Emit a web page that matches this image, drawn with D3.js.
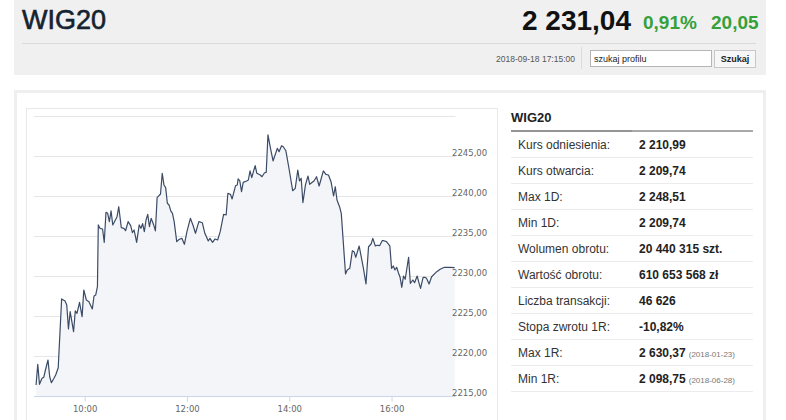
<!DOCTYPE html>
<html lang="pl">
<head>
<meta charset="utf-8">
<title>WIG20</title>
<script src="https://cdnjs.cloudflare.com/ajax/libs/d3/7.8.5/d3.min.js"></script>
<style>
  body { margin: 0; background: #fff; width: 786px; height: 420px; overflow: hidden; }
  svg { display: block; font-family: "Liberation Sans", Arial, sans-serif; }
</style>
</head>
<body>
<div id="page"></div>
<script>
// intraday quotes
const times = ["09:03","09:05","09:07","09:10","09:12","09:14","09:17","09:19","09:21","09:24",
  "09:26","09:29","09:33","09:37","09:39","09:41","09:43","09:45","09:47","09:49",
  "09:51","09:54","09:57","09:59","10:02","10:05","10:09","10:11","10:13","10:15",
  "10:16","10:18","10:21","10:23","10:25","10:27","10:29","10:31","10:33","10:36",
  "10:38","10:40","10:43","10:46","10:48","10:51","10:54","10:56","10:58","11:01",
  "11:04","11:06","11:08","11:10","11:12","11:14","11:16","11:18","11:21","11:23",
  "11:25","11:29","11:31","11:33","11:35","11:37","11:39","11:41","11:43","11:45",
  "11:48","11:51","11:54","11:57","12:00","12:04","12:07","12:10","12:14","12:18",
  "12:21","12:25","12:27","12:30","12:33","12:36","12:39","12:43","12:46","12:48",
  "12:51","12:53","12:57","12:59","13:00","13:02","13:04","13:06","13:10","13:12",
  "13:14","13:16","13:20","13:22","13:26","13:28","13:31","13:33","13:35","13:38",
  "13:41","13:46","13:48","13:51","13:53","13:56","14:00","14:04","14:07","14:10",
  "14:12","14:14","14:16","14:19","14:22","14:24","14:27","14:29","14:32","14:35",
  "14:37","14:40","14:43","14:46","14:49","14:52","14:54","14:56","14:59","15:01",
  "15:06","15:08","15:11","15:14","15:16","15:18","15:22","15:24","15:27","15:30",
  "15:33","15:36","15:38","15:41","15:43","15:46","15:49","15:51","15:54","15:57",
  "15:58","16:00","16:02","16:04","16:06","16:08","16:10","16:12","16:14","16:16",
  "16:20","16:22","16:25","16:27","16:30","16:32","16:34","16:37","16:39","16:41",
  "16:44","16:47","16:53","16:57","17:02","17:08","17:14"];

const quotes = [2216.38,2218.96,2216.46,2217.21,2217.34,2218.25,2219.50,2217.41,2216.66,2217.21,
  2217.63,2218.54,2227.13,2226.88,2226.38,2223.38,2225.54,2224.29,2223.04,2225.63,
  2225.34,2226.71,2224.91,2228.25,2227.00,2226.79,2225.88,2227.50,2227.63,2228.66,
  2236.38,2235.96,2235.88,2234.21,2237.96,2237.84,2236.79,2238.13,2236.38,2237.00,
  2237.41,2238.66,2236.04,2235.96,2235.66,2236.79,2236.29,2235.41,2235.75,2234.21,
  2236.38,2235.96,2236.54,2235.54,2237.00,2237.71,2236.16,2237.21,2236.38,2235.63,
  2239.79,2240.25,2242.84,2241.38,2241.04,2239.09,2238.88,2238.13,2237.84,2236.79,
  2234.29,2234.59,2234.71,2233.96,2235.54,2237.21,2236.38,2235.34,2236.79,2236.66,
  2235.34,2234.38,2234.71,2234.21,2234.63,2234.50,2235.54,2237.71,2237.63,2240.34,
  2240.21,2239.63,2241.29,2241.38,2242.13,2241.88,2240.54,2241.71,2241.88,2242.00,
  2243.13,2242.29,2243.79,2242.84,2242.63,2242.41,2242.91,2242.96,2247.63,2245.96,
  2244.38,2245.96,2245.54,2246.29,2246.16,2245.66,2243.25,2240.66,2240.96,2243.25,
  2241.88,2242.21,2239.16,2241.38,2242.50,2241.46,2241.71,2241.88,2242.41,2241.25,
  2242.00,2243.13,2242.71,2242.63,2241.79,2240.00,2241.16,2239.50,2238.66,2237.84,
  2230.25,2230.75,2230.96,2233.16,2233.04,2232.34,2233.75,2232.63,2230.96,2229.00,
  2233.66,2234.00,2234.71,2233.75,2233.84,2233.79,2234.41,2234.41,2234.29,2233.88,
  2233.75,2230.96,2231.25,2230.75,2231.09,2230.41,2229.84,2228.59,2230.00,2229.59,
  2232.34,2229.09,2229.50,2229.16,2230.00,2229.21,2228.46,2229.84,2229.84,2229.71,
  2229.00,2229.91,2230.54,2230.84,2231.09,2231.09,2231.04];

const yTicks = [2215, 2220, 2225, 2230, 2235, 2240, 2245, 2250];
const xTicks = ["10:00", "12:00", "14:00", "16:00"];

// header
const title = "WIG20";
const lastPrice = "2 231,04";
const changePct = "0,91%";
const changeAbs = "20,05";
const stamp = "2018-09-18 17:15:00";

// side table
const rowLabels = ["Kurs odniesienia:", "Kurs otwarcia:", "Max 1D:", "Min 1D:", "Wolumen obrotu:",
  "Wartość obrotu:", "Liczba transakcji:", "Stopa zwrotu 1R:", "Max 1R:", "Min 1R:"];
const rowValues = ["2 210,99", "2 209,74", "2 248,51", "2 209,74", "20 440 315 szt.",
  "610 653 568 zł", "46 626", "-10,82%", "2 630,37", "2 098,75"];
const rowNotes = ["", "", "", "", "", "", "", "", "(2018-01-23)", "(2018-06-28)"];

const W = 786, H = 420;
const parseTime = d3.timeParse("%H:%M");
// axis labels: comma decimal, no thousands grouping
const fmt = d3.formatLocale({decimal: ",", thousands: "", grouping: [3], currency: ["", " zł"]}).format(".2f");

const data = times.map(function (t, i) { return {t: parseTime(t), v: quotes[i]}; });

const svg = d3.select("#page").append("svg")
  .attr("width", W)
  .attr("height", H);

// ---- top bar ----
svg.append("rect").attr("x", 14).attr("y", 0).attr("width", 752).attr("height", 75).attr("fill", "#f0f0f0");
svg.append("text").attr("x", 22).attr("y", 29).attr("font-size", 27).attr("fill", "#15222f")
  .attr("stroke", "#15222f").attr("stroke-width", 0.6).text(title);
svg.append("text").attr("x", 522).attr("y", 30).attr("font-size", 28).attr("font-weight", "bold")
  .attr("fill", "#111").text(lastPrice);
svg.append("text").attr("x", 643).attr("y", 29).attr("font-size", 19).attr("font-weight", "bold")
  .attr("fill", "#36a03a").text(changePct);
svg.append("text").attr("x", 711).attr("y", 29).attr("font-size", 19).attr("font-weight", "bold")
  .attr("fill", "#36a03a").text(changeAbs);
svg.append("line").attr("x1", 22).attr("x2", 756).attr("y1", 43.5).attr("y2", 43.5).attr("stroke", "#dadada");
svg.append("text").attr("x", 575).attr("y", 61.5).attr("text-anchor", "end").attr("font-size", 8.5)
  .attr("fill", "#555").text(stamp);
svg.append("line").attr("x1", 581.5).attr("x2", 581.5).attr("y1", 47).attr("y2", 69).attr("stroke", "#dcdcdc");
svg.append("rect").attr("x", 590.5).attr("y", 50.5).attr("width", 121).attr("height", 16)
  .attr("fill", "#fff").attr("stroke", "#b5b5b5");
svg.append("text").attr("x", 594).attr("y", 61.5).attr("font-size", 9).attr("fill", "#222").text("szukaj profilu");
svg.append("rect").attr("x", 714.5).attr("y", 50.5).attr("width", 41).attr("height", 17)
  .attr("fill", "#f7f7f7").attr("stroke", "#c8c8c8");
svg.append("text").attr("x", 735).attr("y", 62).attr("text-anchor", "middle").attr("font-size", 9)
  .attr("font-weight", "bold").attr("fill", "#222").text("Szukaj");

// ---- card ----
svg.append("rect").attr("x", 15.5).attr("y", 91.5).attr("width", 749).attr("height", 360)
  .attr("fill", "#fff").attr("stroke", "#efefef").attr("stroke-width", 3);
svg.append("rect").attr("x", 26.5).attr("y", 108.5).attr("width", 471).attr("height", 340)
  .attr("fill", "none").attr("stroke", "#e8e8e8");

// ---- chart ----
const x = d3.scaleTime()
  .domain([parseTime("09:00"), parseTime("17:15")])
  .range([33.5, 455.5]);
const y = d3.scaleLinear()
  .domain([2215, 2250])
  .range([396, 116]);

const chart = svg.append("g");

chart.selectAll(".grid")
  .data(yTicks)
  .enter()
  .append("line")
  .attr("class", "grid")
  .attr("x1", 34).attr("x2", 455.5)
  .attr("y1", function (d) { return Math.round(y(d)) + 0.5; })
  .attr("y2", function (d) { return Math.round(y(d)) + 0.5; })
  .attr("stroke", "#e6e6e6");

const area = d3.area()
  .x(function (d) { return x(d.t); })
  .y0(y(2215))
  .y1(function (d) { return y(d.v); });
const line = d3.line()
  .x(function (d) { return x(d.t); })
  .y(function (d) { return y(d.v); });

chart.append("path").datum(data).attr("d", area).attr("fill", "#f4f5f8");
chart.append("path").datum(data).attr("d", line)
  .attr("fill", "none").attr("stroke", "#3b4b66").attr("stroke-width", 1.2)
  .attr("stroke-linejoin", "round");

// x axis
const xAxis = d3.axisBottom(x)
  .tickValues(xTicks.map(parseTime))
  .tickFormat(d3.timeFormat("%H:%M"))
  .tickSize(5)
  .tickPadding(4);
const gx = chart.append("g").attr("transform", "translate(0," + (y(2215) + 0.5) + ")").call(xAxis);
gx.select(".domain").attr("d", "M34,0H455.5").attr("stroke", "#ccd6eb");
gx.selectAll(".tick line").attr("stroke", "#ccd6eb");
gx.selectAll(".tick text").attr("fill", "#666").attr("font-size", 8.5).attr("font-family", "DejaVu Sans");

// y labels on the right, sitting on the grid lines
const yAxis = d3.axisRight(y)
  .tickValues(yTicks.slice(0, -1))
  .tickFormat(fmt)
  .tickSize(0)
  .tickPadding(0);
const gy = chart.append("g").attr("transform", "translate(452,0)").call(yAxis);
gy.select(".domain").remove();
gy.selectAll(".tick text").attr("fill", "#666").attr("font-size", 8.5)
  .attr("font-family", "DejaVu Sans").attr("dy", "-0.1em");

// ---- side table ----
const side = svg.append("g");
side.append("text").attr("x", 511).attr("y", 121.5).attr("font-size", 13).attr("font-weight", "bold")
  .attr("fill", "#222").text(title);
side.append("line").attr("x1", 511).attr("x2", 632).attr("y1", 131).attr("y2", 131)
  .attr("stroke", "#707070").attr("stroke-width", 1.5);
side.append("line").attr("x1", 632).attr("x2", 753).attr("y1", 131).attr("y2", 131)
  .attr("stroke", "#8c8c8c").attr("stroke-width", 1.5);

const rowH = 26;
const rows = side.selectAll(".row")
  .data(rowLabels)
  .enter()
  .append("g")
  .attr("class", "row")
  .attr("transform", function (d, i) { return "translate(0," + (131 + i * rowH) + ")"; });

rows.append("line")
  .attr("x1", 511).attr("x2", 753)
  .attr("y1", rowH + 0.5).attr("y2", rowH + 0.5)
  .attr("stroke", "#ececec");
rows.append("text")
  .attr("x", 518).attr("y", 17.5)
  .attr("font-size", 12).attr("fill", "#333")
  .text(function (d) { return d; });
const val = rows.append("text")
  .attr("x", 639).attr("y", 17.5)
  .attr("font-size", 12).attr("font-weight", "bold").attr("fill", "#222");
val.append("tspan").text(function (d, i) { return rowValues[i]; });
val.append("tspan")
  .attr("dx", 3)
  .attr("font-size", 8).attr("font-weight", "normal").attr("fill", "#777")
  .text(function (d, i) { return rowNotes[i]; });
</script>
</body>
</html>
